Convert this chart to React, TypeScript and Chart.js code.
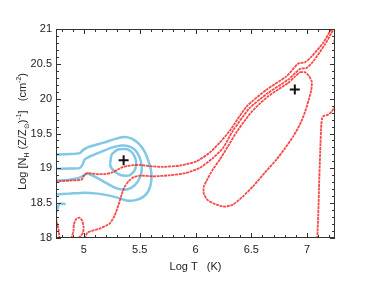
import React, { useEffect, useRef } from 'react';
import { Chart, registerables } from 'chart.js';

Chart.register(...registerables);

// Axis ranges and tick labels
const xRange = [4.75, 7.25];
const yRange = [18, 21];
const xTicks = [5, 5.5, 6, 6.5, 7];
const yTicks = [18, 18.5, 19, 19.5, 20, 20.5, 21];
const minorStep = 0.1;

type P = [number, number];

// Blue contours (Log T, Log N)
const blueOuter: P[] = [
  [4.74, 19.197], [4.872, 19.204], [4.961, 19.218], [4.997, 19.268], [5.051, 19.311],
  [5.177, 19.369], [5.275, 19.419], [5.356, 19.448], [5.428, 19.426], [5.491, 19.354],
  [5.544, 19.24], [5.58, 19.096], [5.603, 18.952], [5.603, 18.809], [5.58, 18.68],
  [5.535, 18.594], [5.464, 18.544], [5.383, 18.537], [5.302, 18.58], [5.23, 18.608],
  [5.123, 18.637], [5.006, 18.651], [4.872, 18.637], [4.74, 18.623],
];
const blueMiddle: P[] = [
  [4.74, 18.991], [4.872, 18.996], [4.961, 19.003], [4.988, 19.053], [5.006, 19.125],
  [5.069, 19.182], [5.159, 19.24], [5.248, 19.297], [5.338, 19.326], [5.41, 19.311],
  [5.464, 19.254], [5.5, 19.153], [5.517, 19.039], [5.513, 18.924], [5.482, 18.809],
  [5.428, 18.723], [5.356, 18.694], [5.275, 18.723], [5.195, 18.795], [5.114, 18.867],
  [5.033, 18.924], [4.961, 18.867], [4.872, 18.838], [4.74, 18.824],
];
const blueInner: P[] = [
  [5.235, 19.07], [5.25, 19.2], [5.305, 19.27], [5.39, 19.275], [5.44, 19.21],
  [5.468, 19.1], [5.458, 18.98], [5.41, 18.9], [5.335, 18.9], [5.275, 18.955],
  [5.24, 19.02], [5.235, 19.07],
];
const blueTail: P[] = [
  [4.74, 18.307], [4.76, 18.407], [4.778, 18.486], [4.8, 18.494], [4.836, 18.486],
];

// Red contours
const redUpper: P[] = [
  [4.74, 18.809], [4.872, 18.824], [4.979, 18.838], [5.006, 18.91], [5.033, 18.931],
  [5.114, 18.917], [5.186, 18.917], [5.248, 18.938], [5.302, 18.981], [5.347, 19.017],
  [5.392, 19.034], [5.446, 19.046], [5.5, 19.049], [5.589, 19.032], [5.706, 19.02],
  [5.858, 19.039], [6.008, 19.1], [6.127, 19.225], [6.217, 19.369], [6.308, 19.541],
  [6.457, 19.886], [6.636, 20.129], [6.815, 20.32], [6.919, 20.502], [6.979, 20.521],
  [7.039, 20.602], [7.143, 20.8], [7.204, 20.962], [7.24, 21.03],
];
const redLower: P[] = [
  [5.006, 17.99], [5.033, 18.078], [5.141, 18.135], [5.23, 18.207], [5.275, 18.321],
  [5.311, 18.479], [5.338, 18.623], [5.365, 18.737], [5.401, 18.816], [5.446, 18.874],
  [5.509, 18.895], [5.616, 18.885], [5.769, 18.9], [5.918, 18.934], [6.038, 19.006],
  [6.157, 19.149], [6.247, 19.293], [6.336, 19.541], [6.486, 19.867], [6.65, 20.082],
  [6.83, 20.273], [6.935, 20.426], [6.995, 20.44], [7.054, 20.535], [7.159, 20.775],
  [7.219, 20.943], [7.255, 21.03],
];
const redLoop: P[] = [
  [6.935, 20.38], [6.979, 20.38], [7.015, 20.33], [7.042, 20.244], [7.038, 20.129],
  [7.015, 19.986], [6.979, 19.799], [6.935, 19.627], [6.874, 19.455], [6.8, 19.283],
  [6.725, 19.125], [6.621, 18.938], [6.516, 18.742], [6.423, 18.594], [6.336, 18.479],
  [6.262, 18.45], [6.187, 18.479], [6.109, 18.544], [6.074, 18.637], [6.074, 18.737],
  [6.1, 18.824], [6.154, 18.981], [6.217, 19.125], [6.289, 19.311], [6.37, 19.526],
  [6.441, 19.684], [6.504, 19.813], [6.576, 19.928], [6.648, 20.029], [6.737, 20.129],
  [6.827, 20.222], [6.89, 20.316], [6.935, 20.38],
];
const redRight: P[] = [
  [7.091, 17.99], [7.1, 18.334], [7.109, 18.836], [7.118, 19.266], [7.127, 19.625],
  [7.136, 19.725], [7.15, 19.754], [7.186, 19.768], [7.219, 19.811], [7.248, 19.883],
  [7.26, 19.91],
];
const redCorner: P[] = [[7.252, 20.86], [7.242, 20.82], [7.252, 20.77]];
const redEdge: P[] = [[4.75, 18.29], [4.758, 18.217], [4.773, 18.121], [4.782, 17.99]];
const redSmallLoop: P[] = [
  [4.885, 17.99], [4.906, 18.092], [4.91, 18.192], [4.93, 18.271], [4.961, 18.293],
  [4.987, 18.242], [4.997, 18.156], [4.993, 18.078], [4.97, 18.027], [4.944, 17.99],
];

// Peak markers
const peaks: P[] = [[5.356, 19.115], [6.89, 20.13]];

const FONT = '"Liberation Sans", Arial, Helvetica, sans-serif';
const BLUE = 'rgb(128,200,230)';
const RED = 'rgba(248,40,40,0.85)';

const pts = (a: P[]) => a.map(([x, y]) => ({ x, y }));

const framePlugin = {
  id: 'frame',
  afterDatasetsDraw(chart: any) {
    const { ctx, chartArea, scales } = chart;
    const { left, right, top, bottom } = chartArea;
    const xs = scales.x;
    const ys = scales.y;
    ctx.save();
    ctx.strokeStyle = '#333';
    ctx.lineWidth = 1;
    ctx.strokeRect(left + 0.5, top + 0.5, right - left - 1, bottom - top - 1);
    ctx.beginPath();
    const isMajor = (v: number, list: number[]) => list.some((t) => Math.abs(t - v) < 1e-6);
    for (let v = xRange[0]; v <= xRange[1] + 1e-9; v += minorStep / 2) {
      const r = Math.round(v * 10) / 10;
      if (Math.abs(r - v) > 1e-6) continue;
      const px = Math.round(xs.getPixelForValue(r)) + 0.5;
      const len = isMajor(r, xTicks) ? 5 : 3;
      ctx.moveTo(px, bottom);
      ctx.lineTo(px, bottom - len);
      ctx.moveTo(px, top);
      ctx.lineTo(px, top + len);
    }
    for (let v = yRange[0]; v <= yRange[1] + 1e-9; v += minorStep) {
      const r = Math.round(v * 10) / 10;
      const py = Math.round(ys.getPixelForValue(r)) + 0.5;
      const len = isMajor(r, yTicks) ? 5 : 3;
      ctx.moveTo(left, py);
      ctx.lineTo(left + len, py);
      ctx.moveTo(right, py);
      ctx.lineTo(right - len, py);
    }
    ctx.stroke();

    // x title
    ctx.fillStyle = '#222';
    ctx.font = `11px ${FONT}`;
    ctx.textAlign = 'center';
    ctx.textBaseline = 'middle';
    ctx.fillText('Log T   (K)', (left + right) / 2, 267);

    // y title with sub/superscripts
    const segs: { t: string; k: number }[] = [
      { t: 'Log [N', k: 0 },
      { t: 'H', k: -1 },
      { t: ' (Z/Z', k: 0 },
      { t: '\u2299', k: -1 },
      { t: ')', k: 0 },
      { t: '-1', k: 1 },
      { t: ']   (cm', k: 0 },
      { t: '-2', k: 1 },
      { t: ')', k: 0 },
    ];
    const big = `11px ${FONT}`;
    const small = `7px ${FONT}`;
    let total = 0;
    const widths = segs.map((s) => {
      ctx.font = s.k === 0 ? big : small;
      const w = ctx.measureText(s.t).width;
      total += w;
      return w;
    });
    ctx.translate(22, (top + bottom) / 2 - 2);
    ctx.rotate(-Math.PI / 2);
    ctx.textAlign = 'left';
    ctx.textBaseline = 'alphabetic';
    let cx = -total / 2;
    segs.forEach((s, i) => {
      ctx.font = s.k === 0 ? big : small;
      const dy = s.k === 0 ? 0 : s.k < 0 ? 3 : -5;
      ctx.fillText(s.t, cx, 4 + dy);
      cx += widths[i];
    });
    ctx.restore();
  },
};

export default function App() {
  const ref = useRef<HTMLCanvasElement>(null);
  useEffect(() => {
    if (!ref.current) return;
    const line = (data: P[], color: string, width: number, dash: number[] = []) => ({
      type: 'scatter' as const,
      data: pts(data),
      showLine: true,
      borderColor: color,
      backgroundColor: color,
      borderWidth: width,
      borderDash: dash,
      pointRadius: 0,
      tension: 0.2,
      fill: false,
    });
    const rd = [3, 0.7];
    const chart = new Chart(ref.current, {
      type: 'scatter',
      data: {
        datasets: [
          {
            type: 'scatter',
            data: pts(peaks),
            pointStyle: 'cross',
            pointRadius: 5,
            borderWidth: 2,
            borderColor: '#111',
            backgroundColor: '#111',
            showLine: false,
          } as any,
          line(redUpper, RED, 1.8, rd),
          line(redLower, RED, 1.8, rd),
          line(redLoop, RED, 1.8, rd),
          line(redRight, RED, 1.8, rd),
          line(redCorner, RED, 1.8, rd),
          line(redEdge, RED, 1.8, rd),
          line(redSmallLoop, RED, 1.8, rd),
          line(blueOuter, BLUE, 2.5),
          line(blueMiddle, BLUE, 2.5),
          line(blueInner, BLUE, 2.5),
          line(blueTail, BLUE, 2.5),
        ],
      },
      options: {
        responsive: false,
        animation: false,
        layout: { padding: { left: 0, top: 29, right: 39, bottom: 0 } },
        plugins: { legend: { display: false }, tooltip: { enabled: false } },
        scales: {
          x: {
            type: 'linear',
            min: xRange[0],
            max: xRange[1],
            afterBuildTicks: (s: any) => {
              s.ticks = xTicks.map((v) => ({ value: v }));
            },
            afterFit: (s: any) => {
              s.height = 43;
            },
            grid: { display: false, drawTicks: false },
            border: { display: false },
            ticks: {
              callback: (v: any) => String(v),
              padding: 5,
              color: '#222',
              font: { family: FONT, size: 11 },
              maxRotation: 0,
              autoSkip: false,
            },
          },
          y: {
            type: 'linear',
            min: yRange[0],
            max: yRange[1],
            afterBuildTicks: (s: any) => {
              s.ticks = yTicks.map((v) => ({ value: v }));
            },
            afterFit: (s: any) => {
              s.width = 56;
            },
            grid: { display: false, drawTicks: false },
            border: { display: false },
            ticks: {
              callback: (v: any) => String(v),
              padding: 4,
              color: '#222',
              font: { family: FONT, size: 11 },
              autoSkip: false,
            },
          },
        },
      },
      plugins: [framePlugin],
    });
    return () => chart.destroy();
  }, []);
  return (
    <div style={{ position: 'fixed', left: 0, top: 0, width: 374, height: 281, background: '#fff' }}>
      <canvas ref={ref} width={374} height={281} style={{ width: 374, height: 281 }} />
    </div>
  );
}
